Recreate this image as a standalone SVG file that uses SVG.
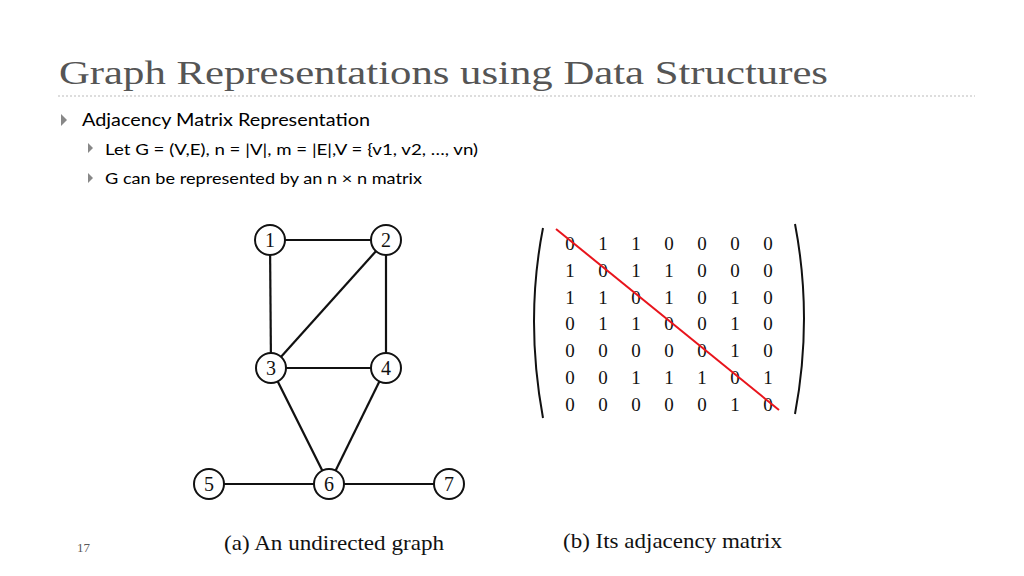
<svg xmlns="http://www.w3.org/2000/svg" width="1024" height="576" viewBox="0 0 1024 576">
<style>
.t{font-family:"Liberation Serif",serif;fill:#555}
.b{font-family:"Lato","Liberation Sans",sans-serif;fill:#000}
.n circle{fill:#fff;stroke:#111;stroke-width:2}
.n text{font-family:"Liberation Serif",serif;font-size:20px;text-anchor:middle;fill:#111}
.e line{stroke:#111;stroke-width:2.2}
.m text{font-family:"Liberation Serif",serif;font-size:19px;text-anchor:middle;fill:#111}
.c{font-family:"Liberation Serif",serif;font-size:21px;fill:#111}
</style>
<rect width="1024" height="576" fill="#fff"/>
<text class="t" x="59" y="84" font-size="33" textLength="769" lengthAdjust="spacingAndGlyphs">Graph Representations using Data Structures</text>
<line x1="58" y1="96" x2="975" y2="96" stroke="#bbb" stroke-dasharray="2,2"/>
<polygon points="61,114 61,126 67,120" fill="#888"/>
<text class="b" x="82" y="126" font-size="17" textLength="288" lengthAdjust="spacingAndGlyphs">Adjacency Matrix Representation</text>
<polygon points="88,143 88,153 93,148" fill="#888"/>
<text class="b" x="105" y="155" font-size="15" textLength="373" lengthAdjust="spacingAndGlyphs">Let G = (V,E), n = |V|, m = |E|,V = {v1, v2, …, vn)</text>
<polygon points="88,173 88,183 93,178" fill="#888"/>
<text class="b" x="105" y="184" font-size="15" textLength="317" lengthAdjust="spacingAndGlyphs">G can be represented by an n × n matrix</text>
<g id="connectors" class="e">
<line x1="270" y1="240" x2="386" y2="240"/><line x1="270" y1="240" x2="271" y2="368"/>
<line x1="386" y1="240" x2="271" y2="368"/><line x1="386" y1="240" x2="386" y2="368"/>
<line x1="271" y1="368" x2="386" y2="368"/><line x1="271" y1="368" x2="329" y2="484"/>
<line x1="386" y1="368" x2="329" y2="484"/><line x1="209" y1="484" x2="329" y2="484"/>
<line x1="329" y1="484" x2="449" y2="484"/>
</g>
<g id="n1" class="n"><circle cx="270" cy="240" r="15"/><text x="270" y="247">1</text></g>
<g id="n2" class="n"><circle cx="386" cy="240" r="15"/><text x="386" y="247">2</text></g>
<g id="n3" class="n"><circle cx="271" cy="368" r="15"/><text x="271" y="375">3</text></g>
<g id="n4" class="n"><circle cx="386" cy="368" r="15"/><text x="386" y="375">4</text></g>
<g id="n5" class="n"><circle cx="209" cy="484" r="15"/><text x="209" y="491">5</text></g>
<g id="n6" class="n"><circle cx="329" cy="484" r="15"/><text x="329" y="491">6</text></g>
<g id="n7" class="n"><circle cx="449" cy="484" r="15"/><text x="449" y="491">7</text></g>
<g id="matrix" class="m">
<path d="M543,228 Q525,320 543,418" fill="none" stroke="#111" stroke-width="2"/>
<path d="M795,224 Q813,318 795,414" fill="none" stroke="#111" stroke-width="2"/>
<text x="570" y="250">0</text><text x="603" y="250">1</text><text x="636" y="250">1</text><text x="669" y="250">0</text><text x="702" y="250">0</text><text x="735" y="250">0</text><text x="768" y="250">0</text>
<text x="570" y="277">1</text><text x="603" y="277">0</text><text x="636" y="277">1</text><text x="669" y="277">1</text><text x="702" y="277">0</text><text x="735" y="277">0</text><text x="768" y="277">0</text>
<text x="570" y="304">1</text><text x="603" y="304">1</text><text x="636" y="304">0</text><text x="669" y="304">1</text><text x="702" y="304">0</text><text x="735" y="304">1</text><text x="768" y="304">0</text>
<text x="570" y="330">0</text><text x="603" y="330">1</text><text x="636" y="330">1</text><text x="669" y="330">0</text><text x="702" y="330">0</text><text x="735" y="330">1</text><text x="768" y="330">0</text>
<text x="570" y="357">0</text><text x="603" y="357">0</text><text x="636" y="357">0</text><text x="669" y="357">0</text><text x="702" y="357">0</text><text x="735" y="357">1</text><text x="768" y="357">0</text>
<text x="570" y="384">0</text><text x="603" y="384">0</text><text x="636" y="384">1</text><text x="669" y="384">1</text><text x="702" y="384">1</text><text x="735" y="384">0</text><text x="768" y="384">1</text>
<text x="570" y="411">0</text><text x="603" y="411">0</text><text x="636" y="411">0</text><text x="669" y="411">0</text><text x="702" y="411">0</text><text x="735" y="411">1</text><text x="768" y="411">0</text>
<line x1="556" y1="229" x2="779" y2="410" stroke="#e8141c" stroke-width="2"/>
</g>
<text class="c" x="224" y="550" textLength="220" lengthAdjust="spacingAndGlyphs">(a) An undirected graph</text>
<text class="c" x="563" y="548" textLength="219" lengthAdjust="spacingAndGlyphs">(b) Its adjacency matrix</text>
<text x="77" y="552" font-family="Liberation Serif,serif" font-size="13" fill="#595959">17</text>
</svg>
